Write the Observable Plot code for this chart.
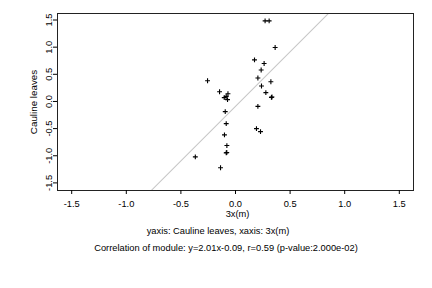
<!DOCTYPE html>
<html>
<head>
<meta charset="utf-8">
<script src="https://cdn.jsdelivr.net/npm/d3@7"></script>
<script src="https://cdn.jsdelivr.net/npm/@observablehq/plot@0.6"></script>
<style>
  html, body { margin: 0; padding: 0; background: #fff; }
  svg { display: block; }
</style>
</head>
<body>
<div id="chart"></div>
<script>
// Data
const xs = [0.271, 0.308, 0.363, 0.174, 0.262, 0.235, -0.256, 0.205, 0.324, 0.238,
            -0.146, -0.069, -0.085, -0.103, -0.073, 0.278, 0.329, 0.334, -0.094, 0.205,
            -0.085, 0.192, 0.229, -0.101, -0.079, -0.085, -0.080, -0.368, -0.137];
const ys = [1.485, 1.485, 0.994, 0.765, 0.700, 0.579, 0.382, 0.432, 0.364, 0.285,
            0.180, 0.143, 0.094, 0.070, 0.033, 0.162, 0.075, 0.083, -0.1875, -0.090,
            -0.408, -0.500, -0.555, -0.616, -0.8125, -0.947, -0.941, -1.020, -1.222];
const slope = 2.01, intercept = -0.09;
const xTicks = [-1.5, -1.0, -0.5, 0.0, 0.5, 1.0, 1.5];
const yTicks = [-1.5, -1.0, -0.5, 0.0, 0.5, 1.0, 1.5];
const xDomain = [-1.63, 1.63];
const yDomain = [-1.64, 1.62];
const yLabel = "Cauline leaves";
const xLabel = "3x(m)";
const caption1 = "yaxis: Cauline leaves, xaxis: 3x(m)";
const caption2 = "Correlation of module: y=2.01x-0.09, r=0.59 (p-value:2.000e-02)";

const points = xs.map((x, i) => ({x, y: ys[i]}));
const fitLine = xDomain.map(x => ({x, y: slope * x + intercept}));
const fmt = d => d.toFixed(1);
const fs = 9.3;

const plot = Plot.plot({
  width: 432,
  height: 288,
  marginLeft: 57,
  marginRight: 19,
  marginTop: 13,
  marginBottom: 98,
  style: {fontFamily: "'Liberation Sans', Arial, Helvetica, sans-serif", fontSize: fs + "px", color: "#000", background: "#fff"},
  x: {domain: xDomain},
  y: {domain: yDomain},
  marks: [
    Plot.line(fitLine, {x: "x", y: "y", stroke: "#c8c8c8", strokeWidth: 1.1, clip: true}),
    Plot.dot(points, {x: "x", y: "y", symbol: "plus", r: 1.7, stroke: "#000", strokeWidth: 1.1}),
    Plot.frame({stroke: "#222", strokeWidth: 1}),
    Plot.axisX({ticks: xTicks, tickSize: 4, tickPadding: 6, tickFormat: fmt, label: null, fontSize: fs, fill: "#000"}),
    Plot.axisY({ticks: yTicks, tickSize: 4, tickFormat: () => "", label: null}),
    Plot.text(yTicks, {y: d => d, text: fmt, frameAnchor: "left", rotate: -90, dx: -8.5, textAnchor: "middle", fontSize: fs, fill: "#000"}),
    Plot.text([yLabel], {text: d => d, frameAnchor: "left", rotate: -90, dx: -24, textAnchor: "middle", fontSize: 9.8, fill: "#000"}),
    Plot.text([xLabel], {text: d => d, frameAnchor: "bottom", dy: 26, dx: 2, fontSize: fs, fill: "#000"}),
    Plot.text([caption1], {text: d => d, frameAnchor: "bottom", dy: 43, dx: -17.5, fontSize: fs, fill: "#000"}),
    Plot.text([caption2], {text: d => d, frameAnchor: "bottom", dy: 60.5, dx: -9.5, fontSize: fs, fill: "#000"})
  ]
});
document.getElementById("chart").appendChild(plot);
</script>
</body>
</html>
